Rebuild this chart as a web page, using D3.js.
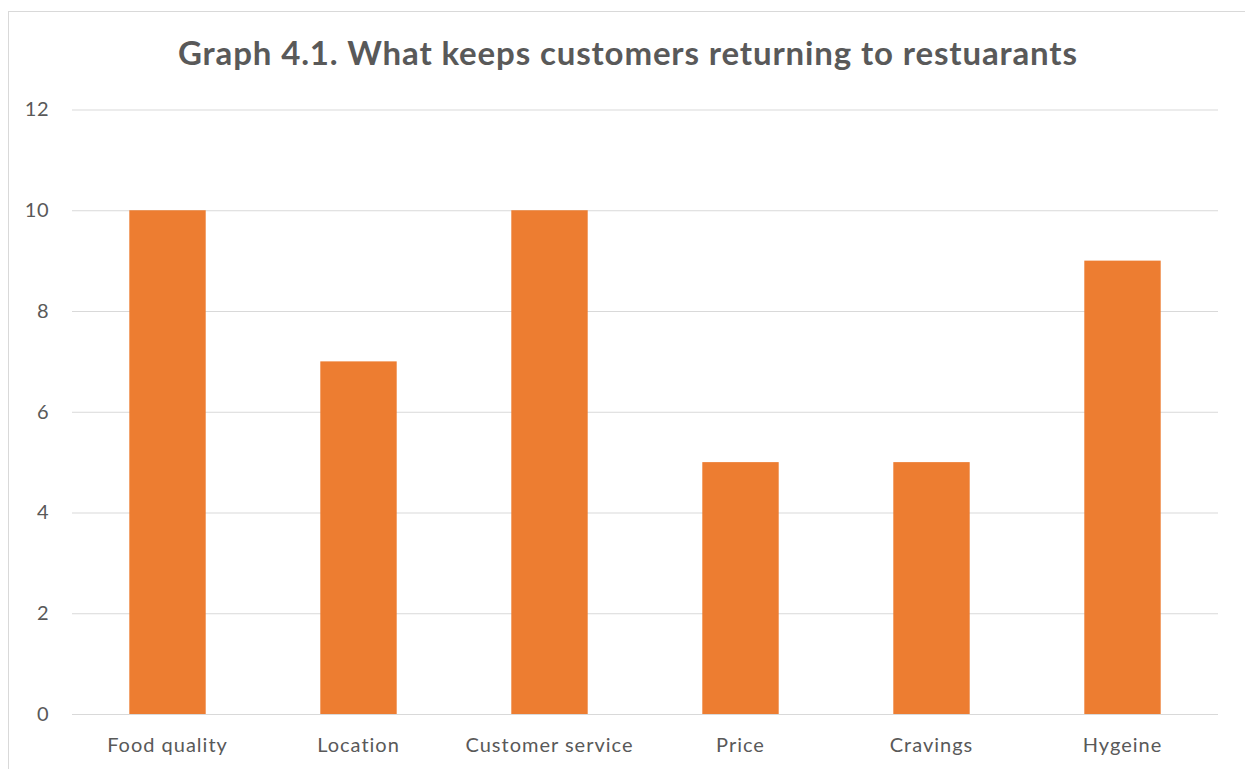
<!DOCTYPE html>
<html><head><meta charset="utf-8">
<script src="https://cdn.jsdelivr.net/npm/d3@7"></script>
<style>html,body{margin:0;padding:0;background:#fff;}svg{display:block;}</style>
</head><body>
<svg id="chart" width="1245" height="769"></svg>
<script>
const categories = ["Food quality","Location","Customer service","Price","Cravings","Hygeine"];
const values = [10,7,10,5,5,9];
const yTicks = [0,2,4,6,8,10,12];
const title = "Graph 4.1. What keeps customers returning to restuarants";

const svg = d3.select("#chart");
const font = "Lato, 'Open Sans', sans-serif";
svg.append("rect").attr("x",8.5).attr("y",11.5).attr("width",1245).attr("height",769)
  .attr("fill","#fff").attr("stroke","#d9d9d9").attr("stroke-width",1);

const x = d3.scaleBand().domain(categories).range([72,1218]).paddingInner(0.6).paddingOuter(0.3);
const y = d3.scaleLinear().domain([0,12]).range([714,109.5]);

const yAxis = d3.axisLeft(y).tickValues(yTicks).tickSize(-(1218-72)).tickPadding(0);
const gy = svg.append("g").attr("transform","translate(72,0)").call(yAxis);
gy.select(".domain").remove();
gy.selectAll(".tick line").attr("stroke","#d9d9d9").attr("stroke-width",1);
gy.selectAll(".tick text").attr("x",-23).attr("fill","#595959").style("font-family",font).style("font-size","20px").style("letter-spacing","0.5px");

svg.append("g").selectAll("rect").data(values).join("rect")
  .attr("x",(d,i)=>x(categories[i])).attr("width",x.bandwidth())
  .attr("y",d=>y(d)).attr("height",d=>y(0)-y(d)).attr("fill","#ed7d31");

const xAxis = d3.axisBottom(x).tickSize(0).tickPadding(24);
const gx = svg.append("g").attr("transform","translate(0,714)").call(xAxis);
gx.select(".domain").remove();
gx.selectAll(".tick text").attr("fill","#595959").style("font-family",font).style("font-size","20px").style("letter-spacing","1px");

svg.append("text").attr("x",627.5).attr("y",65).attr("text-anchor","middle")
  .attr("fill","#595959").style("font-family",font).style("font-weight","bold").style("font-size","33px")
  .attr("textLength",899).attr("lengthAdjust","spacing")
  .text(title);
</script>
</body></html>
